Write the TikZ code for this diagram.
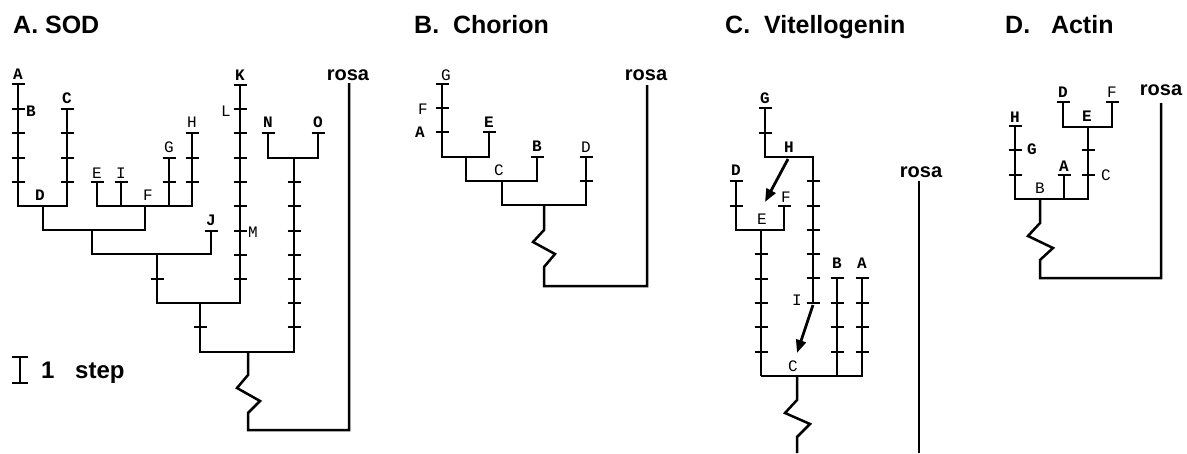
\documentclass[tikz,border=0pt]{standalone}
\usepackage{fontspec}
\setmainfont{Liberation Sans}
\newfontfamily\labfont{Liberation Mono}
\usetikzlibrary{arrows.meta}
\tikzset{
  br/.style={line width=2.5pt, line join=miter},
  tk/.style={line width=2.5pt},
  lab/.style={font=\labfont\fontsize{16}{16}\selectfont, inner sep=0pt},
  bl/.style={font=\labfont\bfseries\fontsize{16}{16}\selectfont, inner sep=0pt},
  ttl/.style={font=\bfseries\fontsize{25}{25}\selectfont, inner sep=0pt, anchor=base west},
  rosa/.style={font=\bfseries\fontsize{20}{20}\selectfont, inner sep=0pt, anchor=base},
  arr/.style={line width=2.8pt, -{Triangle[length=13pt,width=10pt]}}
}
\newcommand\tks[2]{\foreach \yy in {#2} {\draw[tk] (#1-6.5,\yy) -- (#1+6.5,\yy);}}
\begin{document}
\begin{tikzpicture}[x=1pt,y=-1pt]
\useasboundingbox (0,0) rectangle (1187,453);
% ---------------- titles
\node[ttl] (tA) at (13,33) {A. SOD};
\node[ttl] (tB) at (414,33) {B.\ \ Chorion};
\node[ttl] (tC) at (725,33) {C.\ \ Vitellogenin};
\node[ttl] (tD) at (1005,33) {D.\ \ \ Actin};
% ---------------- panel A
\draw[br] (18,84) -- (18,206) -- (67,206) -- (67,109);
\tks{18}{84,109,133,158,182} \tks{67}{109,133,158,182}
\draw[br] (43,206) -- (43,230) -- (145,230) -- (145,206);
\draw[br] (97,182) -- (97,206) -- (192,206) -- (192,133);
\draw[br] (121,182) -- (121,206);
\draw[br] (169,158) -- (169,206);
\tks{97}{182} \tks{121}{182} \tks{169}{158,182} \tks{192}{133,158,182}
\draw[br] (92,230) -- (92,254) -- (211,254) -- (211,231);
\tks{211}{231}
\draw[br] (157,254) -- (157,303) -- (240,303) -- (240,85);
\tks{157}{279} \tks{240}{85,109,133,158,182,206,231,255,279}
\draw[br] (200,303) -- (200,352) -- (294,352) -- (294,158);
\tks{200}{327} \tks{294}{182,206,231,255,279,303,327}
\draw[br] (268,133) -- (268,158) -- (318,158) -- (318,133);
\tks{268}{133} \tks{318}{133}
\draw[br] (248,352) -- (248,375) -- (237,388) -- (260,401) -- (248,413) -- (248,430) -- (349,430) -- (349,83);
\node[bl] (aA) at (18,74) {A};
\node[bl] (aB) at (31,111) {B};
\node[bl] (aC) at (67,98) {C};
\node[bl] (aD) at (40,195) {D};
\node[lab] (aE) at (97,173) {E};
\node[lab] (aI) at (121,173) {I};
\node[lab] (aF) at (148,195) {F};
\node[lab] (aG) at (169,147) {G};
\node[lab] (aH) at (192,122) {H};
\node[bl] (aJ) at (211,220) {J};
\node[bl] (aK) at (240,75) {K};
\node[lab] (aL) at (226,111) {L};
\node[lab] (aM) at (253,232) {M};
\node[bl] (aN) at (268,122) {N};
\node[bl] (aO) at (318,122) {O};
\node[rosa] (aR) at (348,80) {rosa};
% legend
\draw[br] (20,357) -- (20,383);
\draw[tk] (12,357) -- (28,357);
\draw[tk] (12,383) -- (28,383);
\node[ttl,font=\bfseries\fontsize{24}{24}\selectfont] (l1) at (41,378) {1};
\node[ttl,font=\bfseries\fontsize{24}{24}\selectfont] (l2) at (75,378) {step};
% ---------------- panel B
\draw[br] (442,84) -- (442,157) -- (489,157) -- (489,132);
\tks{442}{84,108,132} \tks{489}{132}
\draw[br] (466,157) -- (466,181) -- (537,181) -- (537,157);
\tks{537}{157}
\draw[br] (502,181) -- (502,205) -- (586,205) -- (586,157);
\tks{586}{157,181}
\draw[br] (544,205) -- (544,230) -- (533,242) -- (555,254) -- (544,267) -- (544,286) -- (647,286) -- (647,85);
\node[lab] (bG) at (446,75) {G};
\node[lab] (bF) at (423,109) {F};
\node[bl] (bA) at (420,132) {A};
\node[bl] (bE) at (489,122) {E};
\node[bl] (bB) at (537,146) {B};
\node[lab] (bC) at (499,170) {C};
\node[lab] (bD) at (586,147) {D};
\node[rosa] (bR) at (646,80) {rosa};
% ---------------- panel C
\draw[br] (765,108) -- (765,157) -- (813,157) -- (813,303);
\tks{765}{108,133} \tks{813}{181,206,230,254,278,303}
\draw[br] (736,181) -- (736,230) -- (784,230) -- (784,206);
\tks{736}{181,206} \tks{784}{206}
\draw[br] (761,230) -- (761,376);
\tks{761}{254,279,303,327,352}
\draw[br] (761,376) -- (862,376) -- (862,278);
\draw[br] (837,278) -- (837,376);
\tks{837}{278,303,327,352} \tks{862}{278,303,327,352}
\draw[br] (797,376) -- (797,400) -- (785,413) -- (810,424) -- (797,437) -- (797,453);
\draw[br] (919,181) -- (919,453);
\draw[arr] (788,159) -- (765,202);
\draw[arr] (813,305) -- (797,353);
\node[bl] (cG) at (765,98) {G};
\node[bl] (cH) at (789,147) {H};
\node[bl] (cD) at (736,170) {D};
\node[lab] (cF) at (786,197) {F};
\node[lab] (cE) at (762,219) {E};
\node[bl] (cB) at (837,263) {B};
\node[bl] (cA) at (862,263) {A};
\node[lab] (cI) at (797,300) {I};
\node[lab] (cC) at (793,366) {C};
\node[rosa] (cR) at (921,177) {rosa};
% ---------------- panel D
\draw[br] (1015,126) -- (1015,199) -- (1088,199) -- (1088,127);
\tks{1015}{126,150,175} \tks{1088}{150,175}
\draw[br] (1064,175) -- (1064,199);
\tks{1064}{175}
\draw[br] (1063,102) -- (1063,127) -- (1112,127) -- (1112,102);
\tks{1063}{102} \tks{1112}{102}
\draw[br] (1040,199) -- (1040,223) -- (1028,236) -- (1053,248) -- (1040,260) -- (1040,278) -- (1161,278) -- (1161,103);
\node[bl] (dH) at (1015,117) {H};
\node[bl] (dG) at (1032,149) {G};
\node[bl] (dA) at (1064,166) {A};
\node[lab] (dB) at (1040,188) {B};
\node[lab] (dC) at (1106,175) {C};
\node[bl] (dD) at (1063,92) {D};
\node[lab] (dF) at (1112,92) {F};
\node[bl] (dE) at (1087,116) {E};
\node[rosa] (dR) at (1161,95) {rosa};
\end{tikzpicture}
\end{document}
